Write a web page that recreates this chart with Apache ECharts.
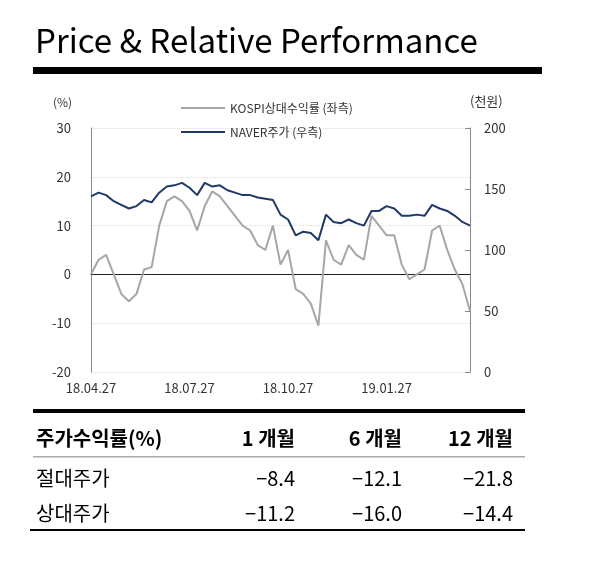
<!DOCTYPE html>
<html><head><meta charset="utf-8">
<script src="https://cdn.jsdelivr.net/npm/echarts@6/dist/echarts.min.js"></script>
<style>html,body{margin:0;padding:0;background:#fff}#c{width:600px;height:567px}</style>
</head><body><div id="c"></div>
<script>
const dates = ['18.04.27','18.05.04','18.05.11','18.05.18','18.05.25','18.06.01','18.06.08','18.06.15','18.06.22','18.06.29','18.07.06','18.07.13','18.07.20','18.07.27','18.08.03','18.08.10','18.08.17','18.08.24','18.08.31','18.09.07','18.09.14','18.09.21','18.09.28','18.10.05','18.10.12','18.10.19','18.10.26','18.11.02','18.11.09','18.11.16','18.11.23','18.11.30','18.12.07','18.12.14','18.12.21','18.12.28','19.01.04','19.01.11','19.01.18','19.01.25','19.02.01','19.02.08','19.02.15','19.02.22','19.03.01','19.03.08','19.03.15','19.03.22','19.03.29','19.04.05','19.04.12'];
const tickLabels = ['18.04.27','18.07.27','18.10.27','19.01.27'];
const kospiRel = [0,3,4,0,-4,-5.5,-4,1,1.5,10,15,16,15,13,9,14,17,16,14,12,10,9,6,5,10,2,5,-3,-4,-6,-10.5,7,3,2,6,4,3,12,10,8,8,2,-1,0,1,9,10,5,1,-2,-7.5];
const naver = [144,147,145,140,137,134,136,141,139,147,152,153,155,151,145,155,152,153,149,147,145,145,143,142,141,129,125,112,115,114,108,129,123,122,125,122,120,132,132,136,134,128,128,129,128,137,134,132,128,123,120];
const seriesNames = ['KOSPI상대수익률 (좌측)','NAVER주가 (우측)'];
const tableHeader = ['주가수익률(%)','1 개월','6 개월','12 개월'];
const tableRows = [['절대주가','−8.4','−12.1','−21.8'],['상대주가','−11.2','−16.0','−14.4']];

const font = "'Noto Sans CJK KR','Noto Sans',sans-serif";
const colX = [36,295,402,513];
const g = [
  {type:'text',left:35,top:24,style:{text:'Price & Relative Performance',font:'33px '+font,fill:'#000'}},
  {type:'rect',shape:{x:33,y:67,width:509,height:7},style:{fill:'#000'}},
  {type:'rect',shape:{x:33,y:409,width:492,height:4},style:{fill:'#000'}},
  {type:'rect',shape:{x:33,y:456,width:492,height:1.5},style:{fill:'#aaa'}},
  {type:'rect',shape:{x:30,y:529,width:495,height:2},style:{fill:'#000'}}
];
tableHeader.forEach((t,i)=>g.push({type:'text',x:colX[i],y:438,style:{text:t,font:'bold 20px '+font,fill:'#000',align:i?'right':'left',verticalAlign:'middle'}}));
tableRows.forEach((r,j)=>r.forEach((t,i)=>g.push({type:'text',x:colX[i],y:478+j*35,style:{text:t,font:'20px '+font,fill:'#000',align:i?'right':'left',verticalAlign:'middle'}})));
g.push({type:'text',x:53,y:96,style:{text:'(%)',font:'12px '+font,fill:'#333'}});
g.push({type:'text',x:470,y:95,style:{text:'(천원)',font:'13px '+font,fill:'#333'}});

const chart = echarts.init(document.getElementById('c'));
chart.setOption({
  animation:false,
  graphic:g,
  legend:{orient:'vertical',left:176,top:97,itemWidth:44,itemHeight:2,itemGap:12,icon:'rect',
    textStyle:{fontFamily:font,fontSize:12,color:'#333'},data:seriesNames},
  grid:{left:91,right:130,top:128,bottom:195},
  xAxis:{type:'category',data:dates,boundaryGap:false,
    axisLine:{onZero:true,onZeroAxisIndex:0,lineStyle:{color:'#222'}},axisTick:{show:false},
    axisLabel:{interval:0,fontSize:13,color:'#333',margin:10,fontFamily:font,
      formatter:(v,i)=> (i%13===0 && i/13<tickLabels.length)? tickLabels[i/13] : ''}},
  yAxis:[
    {type:'value',min:-20,max:30,interval:10,axisLine:{show:true,lineStyle:{color:'#888'}},axisTick:{show:false},
     axisLabel:{fontSize:13,color:'#333',fontFamily:font,margin:20},
     splitLine:{lineStyle:{color:'#ddd',type:'dotted'}}},
    {type:'value',min:0,max:200,interval:50,axisLine:{show:true,lineStyle:{color:'#888'}},
     axisTick:{show:true,inside:true,length:5},axisLabel:{fontSize:13,color:'#333',fontFamily:font,margin:14},
     splitLine:{show:false}}
  ],
  series:[
    {name:seriesNames[0],type:'line',data:kospiRel,yAxisIndex:0,symbol:'none',lineStyle:{color:'#a6a6a6',width:2},itemStyle:{color:'#a6a6a6'}},
    {name:seriesNames[1],type:'line',data:naver,yAxisIndex:1,symbol:'none',lineStyle:{color:'#1f3a68',width:2},itemStyle:{color:'#1f3a68'}}
  ]
});
</script></body></html>
